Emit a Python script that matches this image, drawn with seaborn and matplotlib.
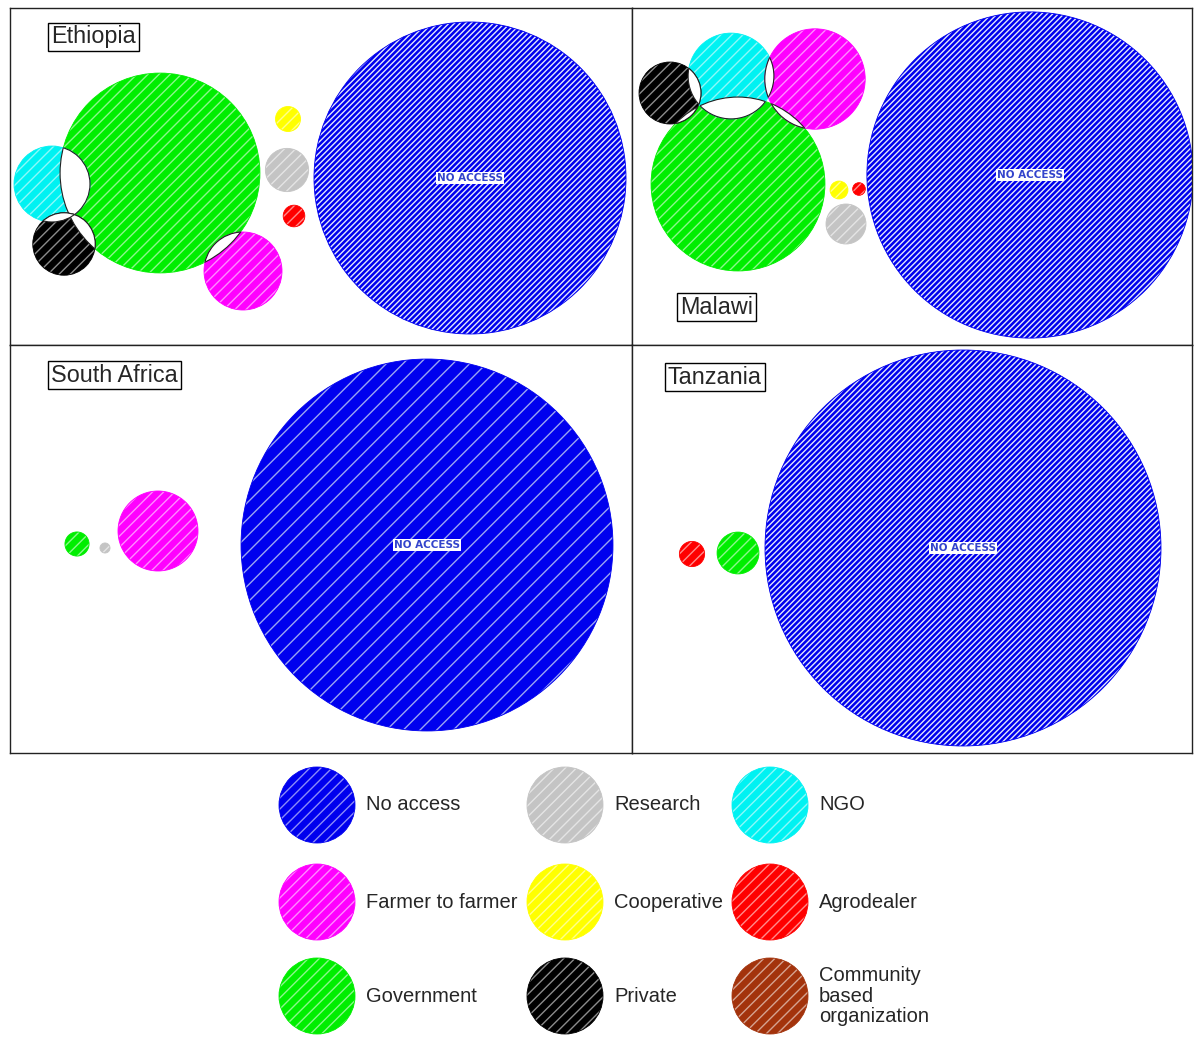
import numpy as np
import pandas as pd
import matplotlib
matplotlib.use("Agg")
import matplotlib.pyplot as plt
from matplotlib.patches import Circle
import seaborn as sns

# ---------------------------------------------------------------- data
categories = ["No access", "Research", "NGO",
              "Farmer to farmer", "Cooperative", "Agrodealer",
              "Government", "Private", "Community based organization"]
legend_labels = ["No access", "Research", "NGO",
                 "Farmer to farmer", "Cooperative", "Agrodealer",
                 "Government", "Private", "Community\nbased\norganization"]
colors = ["#0000ee", "#c4c4c4", "#00f2f2",
          "#ff00ff", "#ffff00", "#ff0000",
          "#00ee00", "#000000", "#a3330c"]

# share of respondents (%) by source of access
eth_source = ["No access", "Government", "NGO", "Private",
              "Farmer to farmer", "Research", "Cooperative", "Agrodealer"]
eth_share = [62.4, 25.6, 3.7, 2.5, 3.9, 1.2, 0.4, 0.3]

mwi_source = ["No access", "Government", "NGO", "Farmer to farmer",
              "Private", "Cooperative", "Agrodealer", "Research"]
mwi_share = [66.5, 18.9, 4.6, 6.3, 2.4, 0.2, 0.1, 1.0]

zaf_source = ["No access", "Farmer to farmer", "Government", "Research"]
zaf_share = [95.1, 4.4, 0.4, 0.07]

tza_source = ["No access", "Government", "Agrodealer"]
tza_share = [98.5, 1.1, 0.4]

# packed-bubble layout (centres inside each panel)
eth_bx = [460, 150, 42, 54, 233, 277, 278, 284]
eth_by = [170, 165, 176, 236, 263, 162, 111, 208]
mwi_bx = [398, 106, 99, 183, 38, 207, 227, 214]
mwi_by = [167, 176, 68, 71, 85, 182, 181, 216]
zaf_bx = [417, 148, 67, 95]
zaf_by = [200, 186, 199, 203]
tza_bx = [331, 106, 60]
tza_by = [203, 208, 209]

# ---------------------------------------------------------------- style
DPI = 100
sns.set_style("white")
plt.rcParams["font.family"] = ["Liberation Sans", "DejaVu Sans"]
plt.rcParams["hatch.linewidth"] = 1.0

palette = dict(zip(categories, colors))

fig = plt.figure(figsize=(12, 10.41), dpi=DPI)
FW, FH = 1200, 1041


def px_axes(x0, y0, x1, y1):
    return fig.add_axes([x0 / FW, 1 - y1 / FH, (x1 - x0) / FW, (y1 - y0) / FH])


panels = [
    # name, source, share, bx, by, panel box (px), radius of 100 %, blue hatch, label pos
    ("Ethiopia", eth_source, eth_share, eth_bx, eth_by, (10, 8, 632, 345), 197.5, "//////", (41, 29)),
    ("Malawi", mwi_source, mwi_share, mwi_bx, mwi_by, (632, 8, 1192, 345), 200.0, "//////", (48, 299)),
    ("South Africa", zaf_source, zaf_share, zaf_bx, zaf_by, (10, 345, 632, 753), 190.7, "//", (41, 30)),
    ("Tanzania", tza_source, tza_share, tza_bx, tza_by, (632, 345, 1192, 753), 199.5, "//////", (36, 32)),
]

for name, source, share, bx, by, box, r100, dense, lab in panels:
    ax = px_axes(*box)
    W, H = box[2] - box[0], box[3] - box[1]
    df = pd.DataFrame({"source": source, "share": share, "x": bx, "y": by})
    s100 = (2 * r100 * 72 / DPI) ** 2

    blue_hatch = "#e4e7fc" if dense != "//" else "#9aa4f2"
    for sub, hatch, hcol in [(df[df.source == "No access"], dense, blue_hatch),
                             (df[df.source != "No access"], "///", (1, 1, 1, 0.55))]:
        plt.rcParams["hatch.color"] = hcol
        sns.scatterplot(data=sub, x="x", y="y", hue="source", palette=palette,
                        size="share", sizes=(0, s100), size_norm=(0, 100),
                        hatch=hatch, edgecolor="face", linewidth=0.6,
                        legend=False, ax=ax, zorder=2)

    # white lens where bubbles overlap
    rad = r100 * np.sqrt(df["share"].values / 100)
    for i in range(len(df)):
        for j in range(i + 1, len(df)):
            d = np.hypot(bx[i] - bx[j], by[i] - by[j])
            if d < rad[i] + rad[j]:
                ca = Circle((bx[i], by[i]), rad[i], transform=ax.transData)
                cb = Circle((bx[j], by[j]), rad[j], transform=ax.transData)
                lens = Circle((bx[j], by[j]), rad[j], fc="white", ec="#222222", lw=0.8, zorder=3)
                ax.add_patch(lens)
                lens.set_clip_path(ca)
                rim = Circle((bx[i], by[i]), rad[i], fc="none", ec="#222222", lw=0.8, zorder=3)
                ax.add_patch(rim)
                rim.set_clip_path(cb)

    k = source.index("No access")
    ax.text(bx[k], by[k], "NO ACCESS", fontsize=7.5, color="#3344cc", fontweight="bold",
            ha="center", va="center", zorder=4, family="Liberation Sans Narrow",
            bbox=dict(boxstyle="square,pad=0.12", fc="white", ec="white", lw=0))

    ax.text(lab[0], lab[1], name, fontsize=16.8, ha="left", va="center", zorder=5,
            bbox=dict(boxstyle="square,pad=0.12", fc="white", ec="black", lw=1.0))

    ax.set_xlim(0, W)
    ax.set_ylim(H, 0)
    ax.set_xticks([])
    ax.set_yticks([])
    ax.set_xlabel("")
    ax.set_ylabel("")
    for sp in ax.spines.values():
        sp.set_color("#222222")
        sp.set_linewidth(1.0)

# ---------------------------------------------------------------- legend
lax = px_axes(0, 756, 1200, 1041)
lax.set_xlim(0, 1200)
lax.set_ylim(1041, 756)
lax.axis("off")

col_x = [317, 565, 770]
row_y = [805, 902, 996]
leg = pd.DataFrame({"source": categories,
                    "x": [col_x[i % 3] for i in range(9)],
                    "y": [row_y[i // 3] for i in range(9)]})
plt.rcParams["hatch.color"] = (1, 1, 1, 0.55)
sns.scatterplot(data=leg, x="x", y="y", hue="source", palette=palette,
                s=(2 * 38 * 72 / DPI) ** 2, hatch="///", edgecolor="face",
                linewidth=0.6, legend=False, ax=lax)
for i, lbl in enumerate(legend_labels):
    lax.text(leg.x[i] + 49, leg.y[i], lbl, fontsize=14.5, ha="left", va="center",
             linespacing=1.1)

fig.savefig("out.png", dpi=DPI)
